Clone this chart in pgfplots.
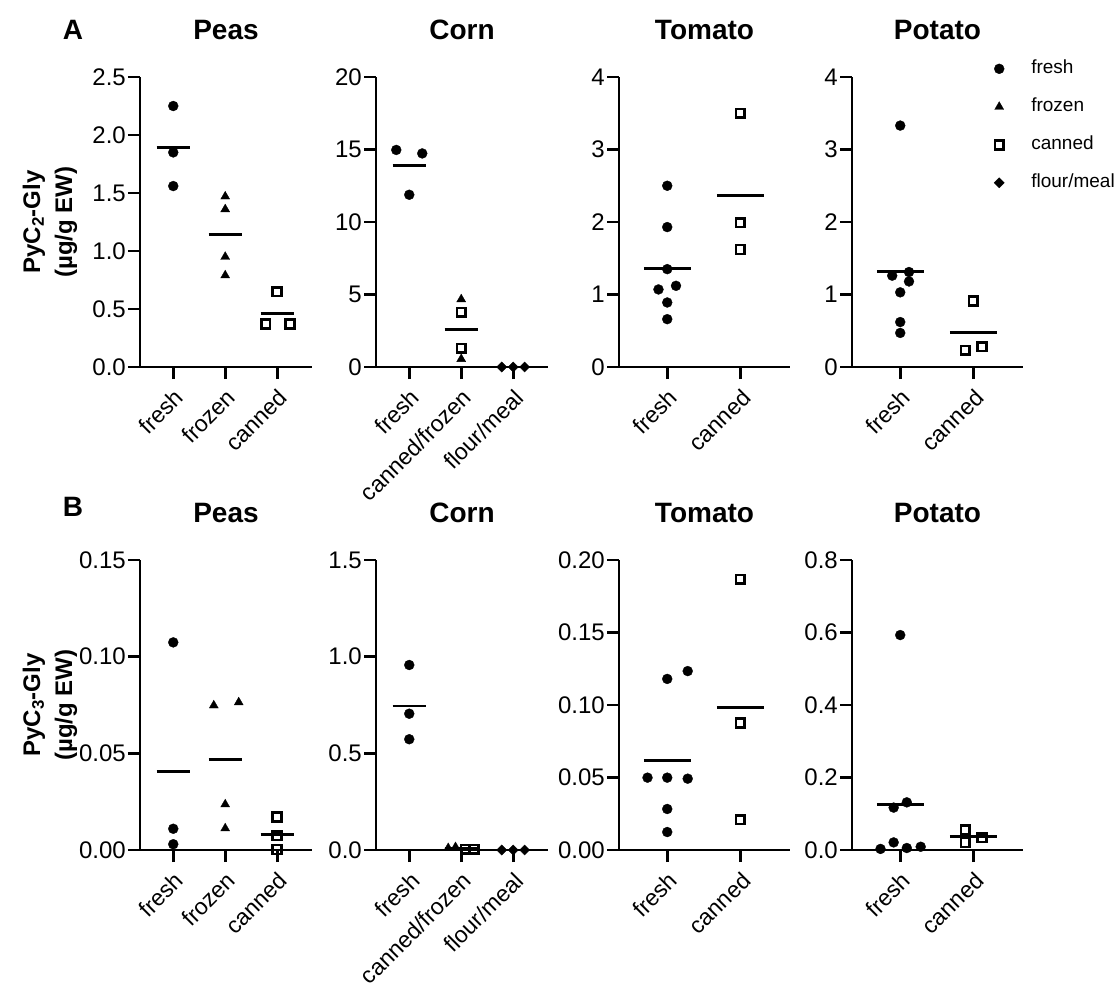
\documentclass[border=0pt]{standalone}
\usepackage{fontspec}
\setmainfont{Liberation Sans}
\usepackage{pgfplots}
\pgfplotsset{compat=1.18}
\pgfplotsset{
 panel/.style={
  scale only axis, height=290pt,
  axis lines=left, axis line style={-, line width=2.9pt, black},
  tick align=outside, major tick length=12pt,
  tick style={line width=2.9pt, black},
  ymin=0, clip=false, enlargelimits=false,
  /pgf/number format/assume math mode=true,
  yticklabel style={font=\fontsize{24}{28}\selectfont, inner sep=2pt},
  xticklabel style={font=\fontsize{23}{27}\selectfont, rotate=45, anchor=north east, inner sep=1pt},
  xticklabel shift=7pt,
  title style={font=\bfseries\fontsize{28}{32}\selectfont, at={(axis description cs:0.5,1)}, anchor=center, yshift=41pt},
  ylabel style={font=\bfseries\fontsize{24}{32}\selectfont, align=center, at={(axis description cs:-0.523,0.5)}, anchor=center},
 },
 three/.style={width=172pt, xmin=-0.64, xmax=2.67, xtick={0,1,2}},
 two/.style={width=171pt, xmin=-0.66, xmax=1.68, xtick={0,1}, xticklabels={fresh,canned}},
 sfresh/.style={black, only marks, mark=*, mark size=5pt, mark options={solid, fill=black, draw=black, line width=0.3pt}},
 sfrozen/.style={black, only marks, mark=triangle*, mark size=5.2pt, mark options={solid, fill=black, draw=black, line width=0.3pt}},
 scanned/.style={black, only marks, mark=square, mark size=4.4pt, mark options={solid, draw=black, line width=2.6pt}},
 sflour/.style={black, only marks, mark=square*, mark size=3.6pt, mark options={solid, rotate=45, fill=black, draw=black, line width=0.3pt}},
 smean/.style={black, no marks, line width=2.9pt},
 single mark legend/.style={legend image code/.code={\draw[##1] plot coordinates {(0pt,0pt)};}},
}
\begin{document}
\begin{tikzpicture}
\path[use as bounding box] (0pt,0pt) rectangle (1119pt,-989pt);
\node[font=\bfseries\fontsize{28}{32}\selectfont] at (73pt,-30pt) {A};
\node[font=\bfseries\fontsize{28}{32}\selectfont] at (73pt,-507pt) {B};

% ---------- Row A ----------
\begin{axis}[panel, three, at={(140pt,-367pt)}, anchor=south west,
  ymax=2.5, ytick={0,0.5,1,1.5,2,2.5}, yticklabels={0.0,0.5,1.0,1.5,2.0,2.5},
  xticklabels={fresh,frozen,canned}, title={Peas},
  ylabel={PyC\textsubscript{2}-Gly\\(µg/g EW)}]
\addplot[sfresh] coordinates {(0,2.25) (0,1.85) (0,1.56)};
\addplot[sfrozen] coordinates {(1,1.47) (1,1.36) (1,0.95) (1,0.79)};
\addplot[scanned] coordinates {(2,0.65) (1.78,0.37) (2.25,0.37)};
\addplot[smean] coordinates {(-0.32,1.89) (0.32,1.89)};
\addplot[smean] coordinates {(0.68,1.14) (1.32,1.14)};
\addplot[smean] coordinates {(1.68,0.46) (2.32,0.46)};
\end{axis}

\begin{axis}[panel, three, at={(376pt,-367pt)}, anchor=south west,
  ymax=20, ytick={0,5,10,15,20}, yticklabels={0,5,10,15,20},
  xticklabels={fresh,canned/frozen,flour/meal}, title={Corn}]
\addplot[sfresh] coordinates {(-0.25,14.97) (0.25,14.73) (0,11.88)};
\addplot[sfrozen] coordinates {(1,4.67) (1,0.55)};
\addplot[scanned] coordinates {(1,3.77) (1,1.29)};
\addplot[smean] coordinates {(-0.32,13.88) (0.32,13.88)};
\addplot[smean] coordinates {(0.68,2.6) (1.32,2.6)};
\addplot[smean] coordinates {(1.68,0) (2.32,0)};
\addplot[sflour] coordinates {(1.78,0) (2,0) (2.22,0)};
\end{axis}

\begin{axis}[panel, two, at={(619pt,-367pt)}, anchor=south west,
  ymax=4, ytick={0,1,2,3,4}, yticklabels={0,1,2,3,4}, title={Tomato}]
\addplot[sfresh] coordinates {(0,2.50) (0,1.93) (0,1.35) (-0.12,1.07) (0.12,1.12) (0,0.89) (0,0.66)};
\addplot[scanned] coordinates {(1,3.50) (1,1.99) (1,1.62)};
\addplot[smean] coordinates {(-0.32,1.36) (0.32,1.36)};
\addplot[smean] coordinates {(0.68,2.37) (1.32,2.37)};
\end{axis}

\begin{axis}[panel, two, at={(852pt,-367pt)}, anchor=south west,
  ymax=4, ytick={0,1,2,3,4}, yticklabels={0,1,2,3,4}, title={Potato},
  legend style={at={(axis description cs:0.83,1.06)}, anchor=north west, draw=none, fill=none,
    inner sep=0pt, font=\fontsize{19}{22}\selectfont,
    nodes={inner sep=0pt, text height=14pt, text depth=4pt},
    row sep=20pt, column sep=27pt},
  legend cell align=left]
\addlegendimage{sfresh, single mark legend}
\addlegendentry{fresh}
\addlegendimage{sfrozen, single mark legend}
\addlegendentry{frozen}
\addlegendimage{scanned, single mark legend}
\addlegendentry{canned}
\addlegendimage{sflour, single mark legend}
\addlegendentry{flour/meal}
\addplot[sfresh, forget plot] coordinates {(0,3.33) (-0.11,1.26) (0.12,1.31) (0.12,1.18) (0,1.03) (0,0.62) (0,0.47)};
\addplot[scanned, forget plot] coordinates {(1,0.91) (0.89,0.23) (1.12,0.28)};
\addplot[smean, forget plot] coordinates {(-0.32,1.32) (0.32,1.32)};
\addplot[smean, forget plot] coordinates {(0.68,0.47) (1.32,0.47)};
\end{axis}

% ---------- Row B ----------
\begin{axis}[panel, three, at={(140pt,-850pt)}, anchor=south west,
  ymax=0.15, ytick={0,0.05,0.1,0.15}, yticklabels={0.00,0.05,0.10,0.15},
  xticklabels={fresh,frozen,canned}, title={Peas},
  ylabel={PyC\textsubscript{3}-Gly\\(µg/g EW)}]
\addplot[sfresh] coordinates {(0,0.1074) (0,0.011) (0,0.003)};
\addplot[sfrozen] coordinates {(0.78,0.0748) (1.26,0.0764) (1,0.0236) (1,0.0112)};
\addplot[scanned] coordinates {(2,0.0171) (2,0.0074) (2,0.0003)};
\addplot[smean] coordinates {(-0.32,0.0405) (0.32,0.0405)};
\addplot[smean] coordinates {(0.68,0.0467) (1.32,0.0467)};
\addplot[smean] coordinates {(1.68,0.0079) (2.32,0.0079)};
\end{axis}

\begin{axis}[panel, three, at={(376pt,-850pt)}, anchor=south west,
  ymax=1.5, ytick={0,0.5,1,1.5}, yticklabels={0.0,0.5,1.0,1.5},
  xticklabels={fresh,canned/frozen,flour/meal}, title={Corn}]
\addplot[sfresh] coordinates {(0,0.957) (0,0.705) (0,0.573)};
\addplot[sfrozen] coordinates {(0.75,0.01) (0.89,0.015)};
\addplot[scanned] coordinates {(1.08,0.004) (1.25,0.004)};
\addplot[smean] coordinates {(-0.32,0.745) (0.32,0.745)};
\addplot[smean] coordinates {(0.68,0.008) (1.32,0.008)};
\addplot[smean] coordinates {(1.68,0) (2.32,0)};
\addplot[sflour] coordinates {(1.78,0) (2,0) (2.22,0)};
\end{axis}

\begin{axis}[panel, two, at={(619pt,-850pt)}, anchor=south west,
  ymax=0.2, ytick={0,0.05,0.1,0.15,0.2}, yticklabels={0.00,0.05,0.10,0.15,0.20}, title={Tomato}]
\addplot[sfresh] coordinates {(0,0.118) (0.28,0.1234) (-0.27,0.0499) (0,0.0499) (0.28,0.0492) (0,0.0283) (0,0.0124)};
\addplot[scanned] coordinates {(1,0.1867) (1,0.0876) (1,0.0209)};
\addplot[smean] coordinates {(-0.32,0.062) (0.32,0.062)};
\addplot[smean] coordinates {(0.68,0.0984) (1.32,0.0984)};
\end{axis}

\begin{axis}[panel, two, at={(852pt,-850pt)}, anchor=south west,
  ymax=0.8, ytick={0,0.2,0.4,0.6,0.8}, yticklabels={0.0,0.2,0.4,0.6,0.8}, title={Potato}]
\addplot[sfresh] coordinates {(0,0.593) (-0.09,0.117) (0.09,0.1315) (-0.27,0.003) (-0.09,0.021) (0.09,0.0055) (0.28,0.009)};
\addplot[scanned] coordinates {(0.89,0.055) (0.89,0.021) (1.12,0.034)};
\addplot[smean] coordinates {(-0.32,0.126) (0.32,0.126)};
\addplot[smean] coordinates {(0.68,0.0368) (1.32,0.0368)};
\end{axis}
\end{tikzpicture}
\end{document}
